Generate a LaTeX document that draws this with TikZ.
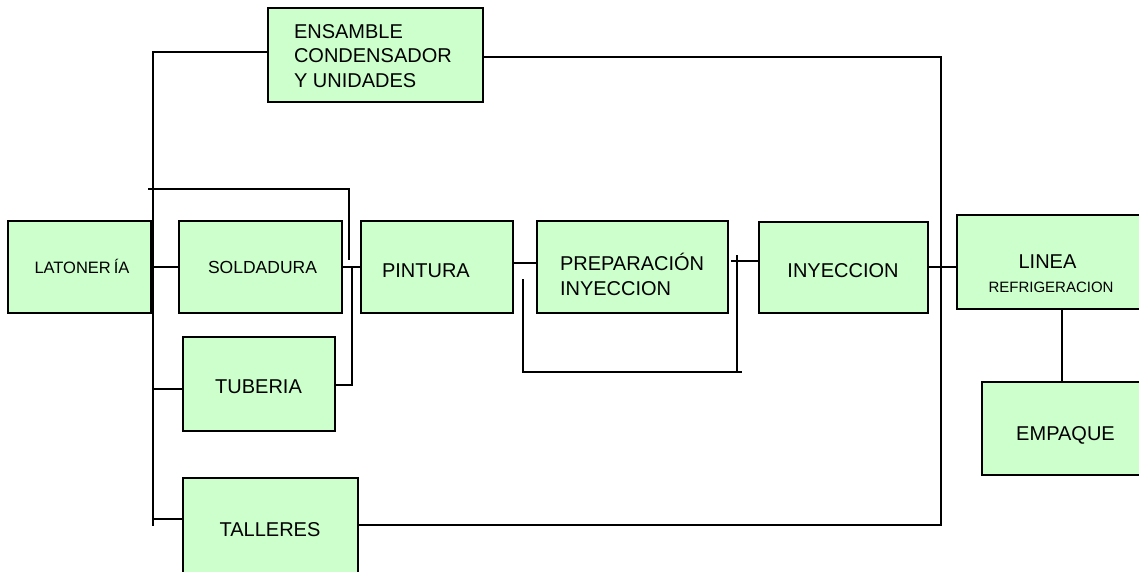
\documentclass[tikz,border=0pt]{standalone}
\usepackage{fontspec}
\setmainfont{Liberation Sans}
\definecolor{boxgreen}{HTML}{CCFFCC}
\tikzset{
  box/.style={draw=black, fill=boxgreen, line width=1.2pt, inner sep=0pt, outer sep=0pt},
  wire/.style={draw=black, line width=1.2pt},
  txt/.style={inner sep=0pt, outer sep=0pt, font=\fontsize{20}{24.5}\selectfont},
  smalltxt/.style={inner sep=0pt, outer sep=0pt, font=\fontsize{17.5}{21}\selectfont},
}
\newcommand{\mybox}[5]{% name, left, top, right, bottom
  \node[box, minimum width={(#4-#2)*1pt}, minimum height={(#5-#3)*1pt}] (#1) at ({(#2+#4)/2},{(#3+#5)/2}) {};}
\begin{document}
\begin{tikzpicture}[x=1pt,y=-1pt]
\path[use as bounding box] (0,0) rectangle (1139,571);
\clip (0,0) rectangle (1139,571);
\fill[white] (0,0) rectangle (1139,571);
% boxes
\mybox{lat}{8}{221}{151}{313}
\mybox{sold}{179}{221}{342}{313}
\mybox{tub}{183}{337}{335}{431}
\mybox{tall}{183}{478}{358}{580}
\mybox{ens}{268}{8}{483}{102}
\mybox{pint}{361}{221}{513}{313}
\mybox{prep}{537}{221}{728}{313}
\mybox{iny}{759}{222}{928}{313}
\mybox{lin}{957}{215}{1150}{309}
\mybox{emp}{982}{382}{1150}{475}
% texts
\node[smalltxt, anchor=base, font=\fontsize{16.5}{20}\selectfont] (lat-t) at (82,273) {LATONER\kern3ptÍA};
\node[smalltxt, anchor=base] (sold-t) at (262.5,273) {SOLDADURA};
\node[txt, anchor=base] (tub-t) at (258.5,393) {TUBERIA};
\node[txt, anchor=base] (tall-t) at (270,536) {TALLERES};
\node[txt, anchor=base west, align=left] (ens-t) at (294,87) {ENSAMBLE\\CONDENSADOR\\Y UNIDADES};
\node[txt, anchor=base west] (pint-t) at (382,277) {PINTURA};
\node[txt, anchor=base west, align=left] (prep-t) at (560,295) {PREPARACIÓN\\INYECCION};
\node[txt, anchor=base] (iny-t) at (843,277) {INYECCION};
\node[txt, anchor=base] (lin-t) at (1047.5,268) {LINEA};
\node[inner sep=0pt, anchor=base, font=\fontsize{15}{18}\selectfont] (lin-t2) at (1051,292) {REFRIGERACION};
\node[txt, anchor=base] (emp-t) at (1065.5,440) {EMPAQUE};
% junction coordinates
\coordinate (lbTop) at (153,52);
\coordinate (lbBot) at (153,526);
\coordinate (lbS) at (153,267);
\coordinate (lbT) at (153,389);
\coordinate (lbTa) at (153,519);
\coordinate (hA) at (148,189);
\coordinate (hB) at (349,189);
\coordinate (hC) at (349,260);
\coordinate (tA) at (352,385);
\coordinate (tB) at (352,267);
\coordinate (pA) at (523,279);
\coordinate (pB) at (523,372);
\coordinate (pC) at (742,372);
\coordinate (qA) at (737,255);
\coordinate (qB) at (737,372);
\coordinate (qC) at (731,261);
\coordinate (rTop) at (941,57);
\coordinate (rBot) at (941,525);
% connectors
\draw[wire] (ens.west |- 0,52) -- (lbTop) -- (lbBot);
\draw[wire] (lbS) -- (sold.west |- lbS);
\draw[wire] (lbT) -- (tub.west |- lbT);
\draw[wire] (lbTa) -- (tall.west |- lbTa);
\draw[wire] (hA) -- (hB) -- (hC);
\draw[wire] (sold.east |- 0,267) -- (pint.west |- 0,267);
\draw[wire] (tub.east |- tA) -- (tA) -- (tB);
\draw[wire] (pint.east |- 0,263) -- (prep.west |- 0,263);
\draw[wire] (pA) -- (pB) -- (pC);
\draw[wire] (qA) -- (qB);
\draw[wire] (qC) -- (iny.west |- qC);
\draw[wire] (ens.east |- rTop) -- (rTop) -- (rBot) -- (tall.east |- rBot);
\draw[wire] (iny.east |- 0,267) -- (lin.west |- 0,267);
\draw[wire] (lin.south -| 1062,0) -- (emp.north -| 1062,0);
\end{tikzpicture}
\end{document}
